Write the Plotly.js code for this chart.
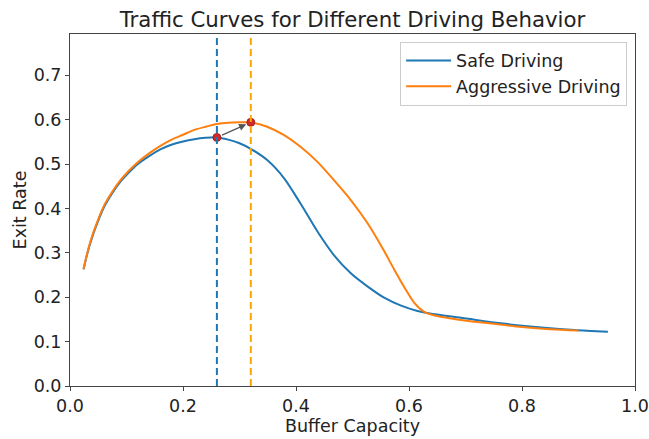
<!DOCTYPE html>
<html>
<head>
<meta charset="utf-8">
<script src="https://cdn.plot.ly/plotly-3.0.1.min.js"></script>
<style>
  html, body { margin: 0; padding: 0; background: #ffffff; }
  #chart { width: 649px; height: 439px; }
</style>
</head>
<body>
<div id="chart"></div>
<script>
// Exit rate vs. buffer capacity for two driving styles
const safeX = [0.024, 0.030, 0.036, 0.045, 0.059, 0.075, 0.089, 0.105, 0.118, 0.140, 0.160, 0.178, 0.200, 0.220, 0.240, 0.260,
               0.280, 0.300, 0.319, 0.349, 0.379, 0.408, 0.438, 0.467, 0.497, 0.527, 0.556, 0.586, 0.615, 0.642,
               0.692, 0.716, 0.750, 0.800, 0.850, 0.893, 0.952];
const safeY = [0.263, 0.295, 0.322, 0.356, 0.400, 0.435, 0.460, 0.482, 0.498, 0.518, 0.533, 0.543, 0.551, 0.556, 0.559, 0.560,
               0.555, 0.547, 0.535, 0.509, 0.468, 0.411, 0.348, 0.295, 0.254, 0.224, 0.199, 0.181, 0.169, 0.162,
               0.154, 0.149, 0.143, 0.136, 0.130, 0.126, 0.122];

const aggrX = [0.024, 0.030, 0.036, 0.045, 0.059, 0.075, 0.089, 0.105, 0.118, 0.140, 0.160, 0.180, 0.200, 0.220, 0.240,
               0.260, 0.280, 0.300, 0.319, 0.349, 0.379, 0.408, 0.438, 0.467, 0.497, 0.527, 0.556, 0.574, 0.592,
               0.609, 0.627, 0.642, 0.680, 0.716, 0.750, 0.800, 0.850, 0.900];
const aggrY = [0.263, 0.297, 0.325, 0.359, 0.403, 0.438, 0.463, 0.486, 0.502, 0.524, 0.541, 0.555, 0.566, 0.577, 0.584,
               0.590, 0.593, 0.594, 0.594, 0.584, 0.565, 0.539, 0.505, 0.464, 0.419, 0.366, 0.304, 0.262, 0.222,
               0.188, 0.167, 0.160, 0.151, 0.145, 0.140, 0.133, 0.128, 0.125];

// Optimal buffer capacity (peak exit rate) for each behaviour
const peakX = [0.26, 0.32];
const peakY = [0.560, 0.594];

const xTicks = [0.0, 0.2, 0.4, 0.6, 0.8, 1.0];
const yTicks = [0.0, 0.1, 0.2, 0.3, 0.4, 0.5, 0.6, 0.7];

const BLUE = '#1f77b4';
const ORANGE = '#ff7f0e';
const FONT = 'DejaVu Sans, sans-serif';
const TXT = '#222222';
const FS = 17.5;

const traces = [
  { x: safeX, y: safeY, mode: 'lines', name: 'Safe Driving', legendgroup: 'a',
    line: { color: BLUE, width: 2, shape: 'spline', smoothing: 0.8 } },
  { x: aggrX, y: aggrY, mode: 'lines', name: 'Aggressive Driving', legendgroup: 'b',
    line: { color: ORANGE, width: 2, shape: 'spline', smoothing: 0.8 } },
  { x: peakX, y: peakY, mode: 'markers', showlegend: false, hoverinfo: 'skip',
    marker: { color: '#d62728', size: 8, line: { color: '#8b1a1a', width: 0.8 } } }
];

const layout = {
  width: 649, height: 439,
  margin: { l: 70, r: 14, t: 34, b: 53 },
  paper_bgcolor: '#ffffff', plot_bgcolor: '#ffffff',
  font: { family: FONT, size: FS, color: TXT },
  title: { text: 'Traffic Curves for Different Driving Behavior',
           font: { family: FONT, size: 21.3, color: TXT },
           x: 0.5, xref: 'paper', xanchor: 'center', y: 0.955, yanchor: 'middle' },
  xaxis: {
    range: [0, 1], tickvals: xTicks, tickformat: '.1f',
    showgrid: false, zeroline: false,
    showline: true, mirror: true, linecolor: '#444444', linewidth: 1,
    ticks: 'outside', ticklen: 4, tickcolor: '#444444',
    tickfont: { family: FONT, size: FS, color: TXT },
    title: { text: 'Buffer Capacity', font: { family: FONT, size: FS, color: TXT }, standoff: 4 }
  },
  yaxis: {
    range: [0, 0.793], tickvals: yTicks, tickformat: '.1f',
    showgrid: false, zeroline: false,
    showline: true, mirror: true, linecolor: '#444444', linewidth: 1,
    ticks: 'outside', ticklen: 4, tickcolor: '#444444',
    tickfont: { family: FONT, size: FS, color: TXT },
    title: { text: 'Exit Rate', font: { family: FONT, size: FS, color: TXT }, standoff: 2 }
  },
  legend: {
    x: 0.986, y: 0.978, xanchor: 'right', yanchor: 'top',
    bgcolor: '#ffffff', bordercolor: '#cccccc', borderwidth: 1,
    font: { family: FONT, size: FS, color: TXT },
    itemwidth: 45, tracegroupgap: 0
  },
  shapes: [
    { type: 'line', xref: 'x', yref: 'paper', x0: peakX[0], x1: peakX[0], y0: 0, y1: 1,
      line: { color: BLUE, width: 2, dash: '7px,4px' } },
    { type: 'line', xref: 'x', yref: 'paper', x0: peakX[1], x1: peakX[1], y0: 0, y1: 1,
      line: { color: '#ffa500', width: 2, dash: '7px,4px' } }
  ],
  annotations: [
    { x: peakX[1], y: peakY[1], ax: peakX[0], ay: peakY[0], axref: 'x', ayref: 'y',
      xref: 'x', yref: 'y', text: '', showarrow: true,
      arrowhead: 2, arrowsize: 1.2, arrowwidth: 1.2, arrowcolor: '#555555',
      standoff: 5, startstandoff: 4 }
  ]
};

Plotly.newPlot('chart', traces, layout, { displayModeBar: false, staticPlot: true });
</script>
</body>
</html>
